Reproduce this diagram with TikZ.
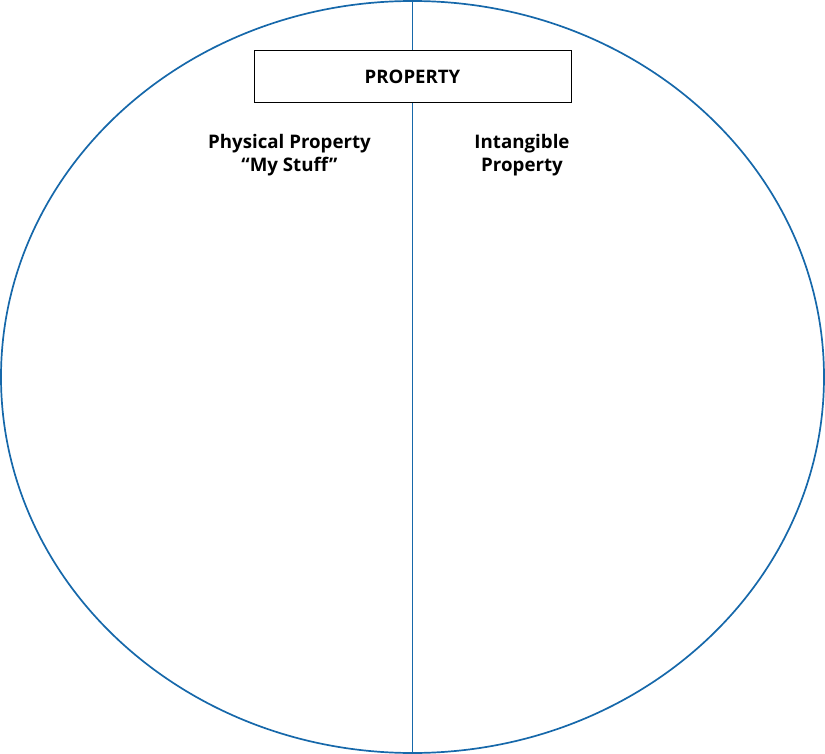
\documentclass[tikz,border=0pt]{standalone}
\usepackage{fontspec}
\setmainfont{Open Sans}
\definecolor{ringblue}{RGB}{22,104,170}
\begin{document}
\begin{tikzpicture}[x=1pt,y=-1pt,
  ring/.style={draw=ringblue,line width=1.7pt},
  titlebox/.style={draw=black,fill=white,line width=1pt,minimum width=317pt,minimum height=52pt,inner sep=0pt,font=\bfseries\fontsize{18.6}{23}\selectfont},
  lbl/.style={align=center,inner sep=0pt,font=\bfseries\fontsize{18.7}{23}\selectfont}]
\useasboundingbox (0,0) rectangle (825,754);
\draw[ring] (412.5,377) ellipse [x radius=411.5, y radius=376];
\coordinate (top) at (412.5,1);
\coordinate (bot) at (412.5,753);
\draw[ring] (top) -- (bot);
\node[titlebox] (prop) at (412.5,76.5) {PROPERTY};
\node[lbl] (phys) at (289.5,155.5) {Physical Property\\“My Stuff”};
\node[lbl] (intang) at (522,155.5) {Intangible\\Property};
\end{tikzpicture}
\end{document}
